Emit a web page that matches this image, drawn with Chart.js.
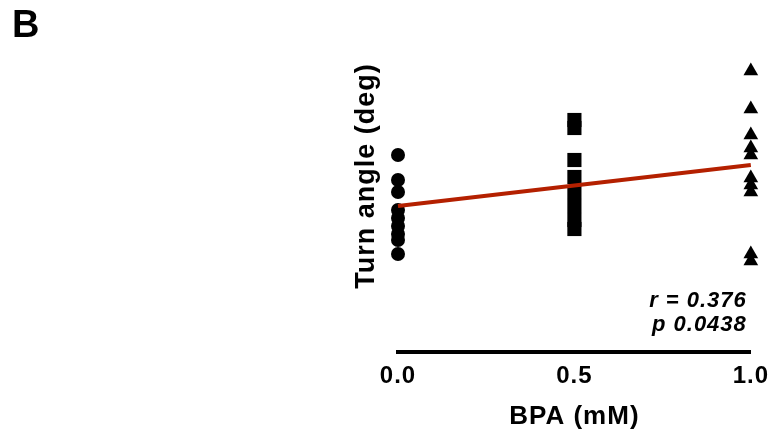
<!DOCTYPE html>
<html>
<head>
<meta charset="utf-8">
<script src="https://cdn.jsdelivr.net/npm/chart.js@4/dist/chart.umd.min.js"></script>
<style>
  html, body { margin: 0; padding: 0; background: #fff; }
  #wrap { width: 770px; height: 444px; }
  canvas { display: block; }
</style>
</head>
<body>
<div id="wrap"><canvas id="c" width="770" height="444"></canvas></div>
<script>
// ---- data (y in arbitrary "deg" units) ----
const doses = [0, 0.5, 1.0];
const xTickLabels = ['0.0', '0.5', '1.0'];
const ctrlValues = [98.5, 86, 80, 71, 67, 63, 59, 56, 49];
const bpaHalfValues = [116, 112, 96, 87.5, 80, 73, 66, 61.5];
const bpaOneValues = [140.5, 121.5, 108.5, 102, 98.5, 87, 83.5, 80, 49, 45.5];
const fitLine = [73, 93.5];          // regression values at dose 0 and dose 1
const fitDoses = [0, 1.0];
const panelLabel = 'B';
const statLines = ['r = 0.376', 'p 0.0438'];
const xTitle = 'BPA (mM)';
const yTitle = 'Turn angle (deg)';

const FONT = '"Liberation Sans", Arial, Helvetica, sans-serif';
const RED = '#b42000';

const toPts = (x, arr) => arr.map(v => ({ x: x, y: v }));

const spacingPlugin = {
  id: 'spacing',
  beforeLayout(chart) { chart.ctx.letterSpacing = '1px'; },
  beforeDraw(chart) { chart.ctx.letterSpacing = '1px'; }
};

const textPlugin = {
  id: 'texts',
  afterDraw(chart) {
    const ctx = chart.ctx;
    const xs = chart.scales.x;
    const area = chart.chartArea;
    ctx.save();
    ctx.fillStyle = '#000';
    // panel letter
    ctx.letterSpacing = '0px';
    ctx.font = 'bold 38px ' + FONT;
    ctx.textAlign = 'left';
    ctx.textBaseline = 'alphabetic';
    ctx.fillText(panelLabel, 12, 37);
    // statistics
    ctx.letterSpacing = '1px';
    ctx.font = 'italic bold 22px ' + FONT;
    ctx.textAlign = 'right';
    const xr = xs.getPixelForValue(1) - 4;
    ctx.fillText(statLines[0], xr, area.bottom - 45);
    ctx.fillText(statLines[1], xr, area.bottom - 21);
    // y-axis title
    ctx.save();
    ctx.translate(area.left - 31, area.top + 124);
    ctx.rotate(-Math.PI / 2);
    ctx.font = 'bold 27px ' + FONT;
    ctx.textAlign = 'center';
    ctx.textBaseline = 'middle';
    ctx.fillText(yTitle, 0, 0);
    ctx.restore();
    ctx.restore();
  }
};

new Chart(document.getElementById('c'), {
  type: 'scatter',
  data: {
    datasets: [
      {
        label: 'fit',
        data: fitDoses.map((d, i) => ({ x: d, y: fitLine[i] })),
        showLine: true,
        borderColor: RED,
        borderWidth: 4,
        pointRadius: 0,
        order: 0,
        clip: false
      },
      {
        label: '0.0 mM',
        data: toPts(doses[0], ctrlValues),
        pointStyle: 'circle',
        pointRadius: 7,
        backgroundColor: '#000',
        borderWidth: 0,
        order: 1,
        clip: false
      },
      {
        label: '0.5 mM',
        data: toPts(doses[1], bpaHalfValues),
        pointStyle: 'rect',
        pointRadius: 10,
        backgroundColor: '#000',
        borderWidth: 0,
        order: 1,
        clip: false
      },
      {
        label: '1.0 mM',
        data: toPts(doses[2], bpaOneValues),
        pointStyle: 'triangle',
        pointRadius: 8.5,
        backgroundColor: '#000',
        borderWidth: 0,
        order: 1,
        clip: false
      }
    ]
  },
  options: {
    responsive: false,
    animation: false,
    devicePixelRatio: 1,
    layout: { padding: { left: 398, right: 19, top: 52, bottom: 0 } },
    plugins: { legend: { display: false }, tooltip: { enabled: false } },
    scales: {
      x: {
        type: 'linear',
        min: 0, max: 1,
        grid: { display: false, drawTicks: false },
        border: { display: true, color: '#000', width: 4 },
        ticks: {
          stepSize: 0.5,
          autoSkip: false,
          maxRotation: 0,
          padding: 1,
          color: '#000',
          font: { family: FONT, size: 24, weight: 'bold', lineHeight: '46px' },
          callback: (v, i) => xTickLabels[i]
        },
        title: {
          display: true,
          text: xTitle,
          color: '#000',
          font: { family: FONT, size: 26, weight: 'bold' },
          padding: { top: 1.4, bottom: 11.4 }
        }
      },
      y: {
        type: 'linear',
        display: false,
        min: 0, max: 150
      }
    }
  },
  plugins: [spacingPlugin, textPlugin]
});
</script>
</body>
</html>
